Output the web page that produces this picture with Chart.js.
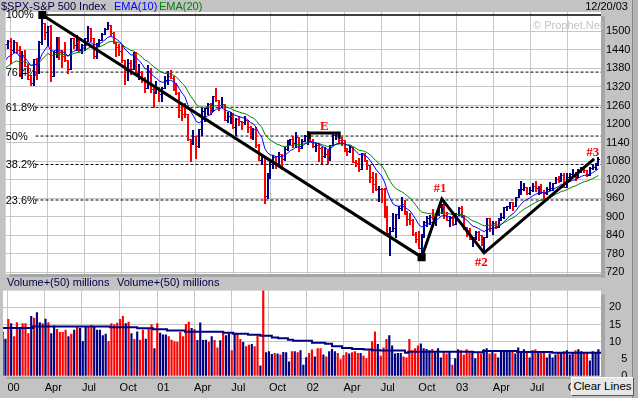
<!DOCTYPE html>
<html>
<head>
<meta charset="utf-8">
<script src="https://cdn.jsdelivr.net/npm/chart.js@4.4.1/dist/chart.umd.min.js"></script>
<style>
  html, body { margin: 0; padding: 0; }
  body { width: 638px; height: 398px; background: #c3c3c3; position: relative; overflow: hidden;
         font-family: "Liberation Sans", Arial, sans-serif; font-size: 11px; }
  canvas { position: absolute; left: 0; }
  #priceChart { top: 0; }
  #volChart { top: 276px; }
  .lbl { position: absolute; white-space: nowrap; line-height: 13px; }
  #edge { position: absolute; left: 632px; top: 0; width: 6px; height: 398px; background: #b4b4b4; border-left: 1px solid #8a8a8a; }
  #clear { position: absolute; left: 571px; top: 377px; width: 61px; height: 17px; background: #e6e6e6;
           border-top: 1px solid #fff; border-left: 1px solid #fff; border-right: 1px solid #5a5a5a; border-bottom: 1px solid #5a5a5a;
           font-size: 11.5px; line-height: 17px; text-align: center; color: #000; }
</style>
</head>
<body>
<div id="edge"></div>
<canvas id="priceChart" width="638" height="290"></canvas>
<canvas id="volChart" width="638" height="122"></canvas>
<div class="lbl" style="left:1px;top:0px;color:#000048">$SPX-S&amp;P 500 Index</div>
<div class="lbl" style="left:114px;top:0px;color:#0000ff">EMA(10)</div>
<div class="lbl" style="left:159px;top:0px;color:#008000">EMA(20)</div>
<div class="lbl" style="right:10px;top:0px;color:#000">12/20/03</div>
<div class="lbl" style="left:7px;top:276px;color:#000048">Volume+(50) millions</div>
<div class="lbl" style="left:117px;top:276px;color:#000048">Volume+(50) millions</div>
<div class="lbl" style="left:533px;top:19px;color:#c4c4c4">© Prophet.Net</div>
<div id="clear">Clear Lines</div>
<script>
// weeks counted from the week of Jan 3, 2000 (= week 0); one bar per week
var weekStart = -13;   // first price bar: week of Oct 4, 1999 (only warms up the EMAs)

var opens = [
  1283,1336,1247,1302,1363,1371,1397,1422,1417,1434,1418,1422,1458,
  // 2000
  1469,1441,1465,1441,1360,1424,1387,1346,1333,1409,1395,1464,1527,1499,1516,1356,1434,1452,1432,1420,1406,1378,1477,1456,1464,1441,
  1455,1478,1510,1480,1419,1462,1471,1491,1506,1520,1494,1465,1449,1436,1408,1374,1396,1379,1426,1365,1367,1341,1315,1369,1312,1305,
  // 2001
  1320,1298,1318,1342,1355,1350,1314,1301,1246,1234,1233,1150,1139,1160,1128,1183,1242,1253,1266,1245,1291,1277,1260,1264,1214,1225,
  1227,1190,1215,1210,1205,1214,1190,1161,1185,1133,1085,1092,966,1041,1071,1092,1073,1104,1087,1120,1139,1150,1139,1158,1123,1144,
  // 2002
  1161,1172,1146,1128,1133,1122,1096,1104,1089,1131,1164,1166,1148,1147,1122,1111,1125,1076,1073,1054,1106,1083,1067,1028,1007,989,
  990,989,921,847,852,864,908,928,940,916,893,889,845,827,800,835,884,897,900,894,909,930,936,906,889,895,
  // 2003
  875,908,927,901,861,856,829,834,851,841,829,833,895,863,879,868,893,898,930,933,946,933,964,987,988,995,
  976,985,998,993,998,980,977,990,993,1008,1021,1018,1036,996,1029,1038,1039,1028,1050,1053,1050,1035,1058,1061,1074
];
var highs = [
  1336,1336,1302,1363,1387,1397,1425,1427,1434,1434,1425,1460,1473,
  1478,1473,1466,1454,1435,1441,1395,1360,1410,1413,1470,1553,1527,1518,1521,1436,1482,1481,1438,1465,1406,1477,1480,1488,1480,1458,
  1480,1516,1510,1480,1462,1475,1494,1510,1530,1520,1497,1465,1460,1455,1408,1410,1406,1432,1434,1395,1372,1352,1390,1380,1317,1340,
  1320,1320,1354,1370,1376,1354,1332,1302,1268,1267,1234,1151,1182,1162,1183,1253,1253,1268,1268,1292,1316,1278,1286,1264,1240,1238,
  1236,1218,1225,1210,1226,1214,1193,1186,1190,1135,1096,1092,1041,1076,1099,1098,1110,1104,1125,1147,1152,1161,1173,1158,1150,1164,
  1176,1173,1150,1139,1138,1127,1124,1116,1131,1172,1168,1173,1157,1147,1122,1130,1126,1084,1089,1107,1106,1085,1067,1046,1040,1000,
  993,993,935,866,911,908,935,965,955,917,912,891,850,854,843,886,902,907,925,910,937,941,954,915,903,903,
  911,932,935,907,866,864,835,853,852,842,834,895,895,885,887,895,912,930,935,947,947,965,991,1015,1010,995,
  995,1010,1015,999,1006,987,995,1011,1008,1030,1033,1040,1040,1040,1040,1053,1046,1054,1062,1063,1052,1060,1072,1075,1092
];
var lows = [
  1277,1247,1233,1281,1348,1342,1394,1403,1380,1399,1404,1416,1447,
  1397,1434,1431,1356,1350,1387,1345,1325,1325,1346,1365,1458,1474,1456,1339,1356,1418,1409,1383,1404,1366,1378,1447,1441,1437,1431,
  1438,1470,1470,1413,1413,1452,1471,1491,1506,1487,1461,1420,1425,1400,1329,1342,1362,1379,1365,1345,1335,1305,1315,1305,1254,1300,
  1274,1275,1315,1330,1348,1311,1296,1224,1214,1222,1148,1081,1135,1091,1126,1163,1209,1232,1234,1241,1273,1245,1255,1212,1205,1204,
  1188,1165,1197,1183,1200,1174,1156,1150,1124,1085,1073,945,962,1026,1056,1058,1071,1054,1084,1117,1135,1125,1125,1114,1123,1144,
  1136,1145,1124,1113,1081,1074,1094,1075,1084,1131,1151,1139,1131,1113,1099,1109,1076,1063,1048,1053,1080,1054,1012,981,985,952,
  948,900,846,776,852,834,895,920,910,873,876,840,818,798,769,834,870,875,892,872,907,912,896,888,870,872,
  875,905,900,861,838,828,806,828,823,807,788,833,855,843,862,865,889,896,920,929,921,933,963,975,985,972,
  973,982,983,974,978,960,974,986,985,1008,1012,1016,996,995,1020,1035,1018,1028,1043,1045,1031,1035,1053,1055,1068
];
var closes = [
  1336,1247,1302,1363,1371,1397,1422,1417,1434,1418,1422,1458,1469,
  1441,1465,1441,1360,1424,1387,1346,1333,1409,1395,1464,1527,1499,1516,1356,1434,1452,1432,1420,1406,1378,1477,1456,1464,1441,1455,
  1478,1510,1480,1419,1462,1471,1491,1506,1520,1494,1465,1449,1436,1408,1374,1396,1379,1426,1365,1367,1341,1315,1369,1312,1305,1320,
  1298,1318,1342,1355,1350,1314,1301,1246,1234,1233,1150,1139,1160,1128,1183,1242,1253,1266,1245,1291,1277,1260,1264,1214,1225,1227,
  1190,1215,1210,1205,1214,1190,1161,1185,1133,1085,1092,966,1041,1071,1092,1073,1104,1087,1120,1139,1150,1139,1158,1123,1144,1161,
  1172,1146,1128,1133,1122,1096,1104,1089,1131,1164,1166,1148,1147,1122,1111,1125,1076,1073,1054,1106,1083,1067,1028,1007,989,990,
  989,921,847,852,864,908,928,940,916,893,889,845,827,800,835,884,897,900,894,909,930,936,906,889,895,875,
  908,927,901,861,856,829,834,851,841,829,833,895,863,879,868,893,898,930,933,946,933,964,987,988,995,976,
  985,998,993,998,980,977,990,993,1008,1021,1018,1036,996,1029,1038,1039,1028,1050,1053,1050,1035,1058,1061,1074,1088
];

// weekly volume, millions, starting at week -2
var volFirstWeek = -2;
var volumes = [
  12.9,10.8,16.5,15.3,11.5,15.6,13.9,15.3,15.3,12.4,17.4,16.9,18.5,15.6,15.3,16.6,15.6,12.4,14.6,13.6,
  12.7,12.7,13.4,11.5,12.2,13.4,14.2,13.9,10.1,14.2,14.2,14.8,14.2,13.4,13.4,11.8,12.2,10.1,15.3,15.0,
  15.4,16.5,17.4,15.3,15.7,12.4,10.7,12.9,10.5,13.4,10.8,13.6,15.0,8.0,15.3,12.5,12.0,12.0,11.5,10.5,
  10.0,9.9,12.7,11.5,15.1,15.7,13.9,13.6,10.4,15.5,10.4,
  10.5,9.9,11.5,10.4,8.2,10.3,12.9,11.8,12.3,7.4,12.2,12.2,10.7,9.8,8.6,9.0,9.2,8.6,11.8,3.0,
  27.0,6.8,7.1,6.3,6.6,6.5,6.2,6.9,6.8,4.1,7.1,7.1,6.8,7.4,3.2,5.4,6.6,7.6,5.6,8.0,
  8.0,6.2,5.6,7.1,7.8,7.1,6.6,4.8,6.0,6.8,6.5,6.8,7.1,6.6,6.6,5.8,5.1,7.4,10.0,12.9,
  9.2,5.8,8.2,10.7,11.8,8.8,6.5,6.6,6.6,
  5.6,5.3,10.7,7.4,8.0,8.8,9.4,8.0,7.8,7.4,7.8,6.8,8.0,5.3,7.1,6.5,7.1,3.2,5.1,7.7,
  7.4,6.2,7.7,6.8,6.9,5.1,7.0,6.5,7.7,8.0,6.5,7.4,6.5,5.3,7.1,7.1,7.1,7.1,7.1,6.5,
  8.2,6.8,7.7,6.8,5.3,7.4,7.7,6.8,7.1,6.8,5.3,6.5,5.3,6.2,6.8,6.8,7.1,7.4,6.2,6.8,
  7.4,7.7,7.1,6.8,6.8,4.4,7.1,6.8,7.7
];

// 50-week volume average
var volAvgWeeks = [-2, 8.5, 35.5, 45, 50.5, 55.4, 61.7, 75, 78.5, 83.7, 88, 92, 94.2, 97.6, 99.4, 106,
                   110.6, 113, 116.5, 120, 124, 127, 129.8, 138.5, 139.6, 162.3, 165.7, 177.6, 189.8, 206.9];
var volAvgValues = [14.0, 14.4, 14.2, 13.9, 13.6, 13.3, 12.9, 12.6, 12.3, 12.0, 11.7, 11.2, 11.0, 10.6, 10.3, 9.7,
                    9.4, 8.7, 8.2, 7.9, 7.7, 7.5, 7.4, 6.8, 7.1, 6.9, 7.3, 7.0, 6.8, 6.8];

var quarterWeeks = [-0.29, 12.71, 25.71, 38.86, 52, 64.86, 77.86, 91, 104.14, 117, 130, 143.14, 156.29, 169.14, 182.14, 195.29];
var quarterLabels = ['00','Apr','Jul','Oct','01','Apr','Jul','Oct','02','Apr','Jul','Oct','03','Apr','Jul','Oct'];
var priceTicks = [720, 780, 840, 900, 960, 1020, 1080, 1140, 1200, 1260, 1320, 1380, 1440, 1500];
var volTicks = [0, 5, 10, 15, 20];

// retracement of the Mar-2000 high to the Oct-2002 low
var fibLevels = [1553, 1368, 1254, 1161, 1069, 954];
var fibLabels = ['100%', '76.4%', '61.8%', '50%', '38.2%', '23.6%'];

// lines and notes drawn on the chart (week, price)
var trendMain = [{x: 11, y: 1553}, {x: 144, y: 769}];
var trendZigzag = [{x: 144, y: 769}, {x: 151.1, y: 957}, {x: 165.9, y: 783}, {x: 204.5, y: 1087}];
var trendE = [{x: 104.6, y: 1152}, {x: 104.6, y: 1171}, {x: 115.1, y: 1171}, {x: 115.1, y: 1152}];
var notes = [['E', 109.9, 1190], ['#1', 150.4, 990], ['#2', 164.9, 752], ['#3', 204, 1108]];

var UP = '#000080', DOWN = '#ff0000';
var weekMin = -1.85, weekMax = 206.9;

Chart.defaults.font.family = '"Liberation Sans", Arial, sans-serif';
Chart.defaults.font.size = 11;
Chart.defaults.color = '#000';

function isDown(i) {
    return i === 0 ? closes[0] < opens[0] : closes[i] < closes[i - 1];
}

function ema(values, n) {
    var k = 2 / (n + 1);
    var e = values[0];
    return values.map(function(v) { e = e + k * (v - e); return e; });
}

function toPoints(values) {
    return values.map(function(v, i) { return {x: weekStart + i, y: v}; });
}

var panelBg = {
    id: 'panelBg',
    beforeDraw: function(chart) {
        var ctx = chart.ctx, a = chart.chartArea;
        ctx.save();
        ctx.fillStyle = '#a6a6a6';
        ctx.fillRect(a.right, a.top + 4, 4, a.height);
        ctx.fillRect(a.left + 4, a.bottom, a.width, 3);
        ctx.fillStyle = '#ffffff';
        ctx.fillRect(a.left, a.top, a.width, a.height);
        ctx.restore();
    }
};

// OHLC bars go in just before the EMA lines
var ohlcBars = {
    id: 'ohlcBars',
    beforeDatasetDraw: function(chart, args) {
        if (chart.data.datasets[args.index].label !== 'EMA(20)') return;
        var ctx = chart.ctx, a = chart.chartArea, x = chart.scales.x, y = chart.scales.y;
        ctx.save();
        ctx.beginPath();
        ctx.rect(a.left, a.top, a.width, a.height);
        ctx.clip();
        closes.forEach(function(c, i) {
            var px = Math.round(x.getPixelForValue(weekStart + i));
            var yh = Math.round(y.getPixelForValue(highs[i]));
            var yl = Math.round(y.getPixelForValue(lows[i]));
            var yo = Math.round(y.getPixelForValue(opens[i]));
            var yc = Math.round(y.getPixelForValue(c));
            ctx.fillStyle = isDown(i) ? DOWN : UP;
            ctx.fillRect(px - 1, yh, 2, yl - yh + 1);
            ctx.fillRect(px - 2, yo, 1, 1);
            ctx.fillRect(px + 1, yc, 1, 1);
        });
        ctx.restore();
    }
};

var priceText = {
    id: 'priceText',
    afterDatasetsDraw: function(chart) {
        var ctx = chart.ctx, a = chart.chartArea, x = chart.scales.x, y = chart.scales.y;
        ctx.save();
        ctx.font = '11px "Liberation Sans", Arial, sans-serif';
        ctx.fillStyle = '#000';
        ctx.textAlign = 'left';
        ctx.textBaseline = 'middle';
        fibLevels.forEach(function(v, i) {
            ctx.fillText(fibLabels[i], a.left, y.getPixelForValue(v) + 0.5);
        });
        ctx.font = 'bold 13px "Liberation Serif", "Times New Roman", serif';
        ctx.fillStyle = '#ff0000';
        ctx.textAlign = 'center';
        notes.forEach(function(n) {
            ctx.fillText(n[0], x.getPixelForValue(n[1]), y.getPixelForValue(n[2]));
        });
        ctx.restore();
    }
};

var closeEma10 = ema(closes, 10);
var closeEma20 = ema(closes, 20);

var fibSets = fibLevels.map(function(v, i) {
    return {
        label: 'fib',
        data: [{x: i === 0 ? 11 : 8.6, y: v}, {x: weekMax, y: v}],
        borderColor: '#000',
        borderWidth: i === 0 ? 1.5 : 1,
        borderDash: i === 0 ? [] : [3, 2],
        pointRadius: 0,
        order: 5
    };
});

var xGrid = {color: '#c6c6c6', lineWidth: 1, drawTicks: false, offset: false};

new Chart(document.getElementById('priceChart'), {
    type: 'line',
    data: {
        datasets: [
            {label: 'trend', data: trendMain, borderColor: '#000', borderWidth: 3,
             pointStyle: 'rect', pointRadius: 5.7, pointBackgroundColor: '#000', pointBorderWidth: 0, order: 0, clip: 8},
            {label: 'trend', data: trendZigzag, borderColor: '#000', borderWidth: 3, pointRadius: 0, order: 0},
            {label: 'trend', data: trendE, borderColor: '#000', borderWidth: 3, pointRadius: 0, order: 0},
            {label: 'EMA(10)', data: toPoints(closeEma10), borderColor: '#0000ff', borderWidth: 1, pointRadius: 0, order: 1},
            {label: 'EMA(20)', data: toPoints(closeEma20), borderColor: '#008000', borderWidth: 1, pointRadius: 0, order: 2}
        ].concat(fibSets)
    },
    options: {
        responsive: false,
        animation: false,
        devicePixelRatio: 1,
        layout: {padding: {left: 3, top: 12, right: 0, bottom: 16}},
        plugins: {legend: {display: false}, tooltip: {enabled: false}},
        elements: {line: {tension: 0}},
        scales: {
            x: {
                type: 'linear', min: weekMin, max: weekMax,
                grid: xGrid, border: {display: false},
                ticks: {display: false},
                afterBuildTicks: function(s) { s.ticks = quarterWeeks.map(function(v) { return {value: v}; }); },
                afterFit: function(s) { s.height = 0; }
            },
            y: {
                position: 'right', min: 714.4, max: 1562.6,
                grid: {color: '#c6c6c6', drawTicks: false}, border: {display: false},
                ticks: {padding: 5, crossAlign: 'near', callback: function(v) { return String(v); }},
                afterBuildTicks: function(s) { s.ticks = priceTicks.map(function(v) { return {value: v}; }); },
                afterFit: function(s) { s.width = 37; }
            }
        }
    },
    plugins: [panelBg, ohlcBars, priceText]
});

var volColors = volumes.map(function(v, i) {
    return isDown(volFirstWeek + i - weekStart) ? DOWN : UP;
});

new Chart(document.getElementById('volChart'), {
    type: 'bar',
    data: {
        datasets: [
            {type: 'line', label: 'avg', data: volAvgWeeks.map(function(w, i) { return {x: w, y: volAvgValues[i]}; }),
             borderColor: '#000080', borderWidth: 2, pointRadius: 0, stepped: true, order: 0},
            {type: 'bar', label: 'vol', data: volumes.map(function(v, i) { return {x: volFirstWeek + i, y: v}; }),
             backgroundColor: volColors, barThickness: 1.5, borderWidth: 0, grouped: false, order: 1}
        ]
    },
    options: {
        responsive: false,
        animation: false,
        devicePixelRatio: 1,
        layout: {padding: {left: 3, top: 14, right: 0, bottom: 0}},
        plugins: {legend: {display: false}, tooltip: {enabled: false}},
        scales: {
            x: {
                type: 'linear', min: weekMin, max: weekMax, offset: false,
                grid: xGrid, border: {display: false},
                ticks: {align: 'start', autoSkip: false, maxRotation: 0, padding: 5,
                        callback: function(v, i) { return quarterLabels[i]; }},
                afterBuildTicks: function(s) { s.ticks = quarterWeeks.map(function(v) { return {value: v}; }); },
                afterFit: function(s) { s.height = 22; }
            },
            y: {
                position: 'right', min: 0, max: 24.9,
                grid: {color: '#c6c6c6', drawTicks: false}, border: {display: false},
                ticks: {padding: 8, crossAlign: 'near',
                        callback: function(v) { return v < 10 ? '\u2007\u2007' + v : String(v); }},
                afterBuildTicks: function(s) { s.ticks = volTicks.map(function(v) { return {value: v}; }); },
                afterFit: function(s) { s.width = 37; }
            }
        }
    },
    plugins: [panelBg]
});
</script>
</body>
</html>
